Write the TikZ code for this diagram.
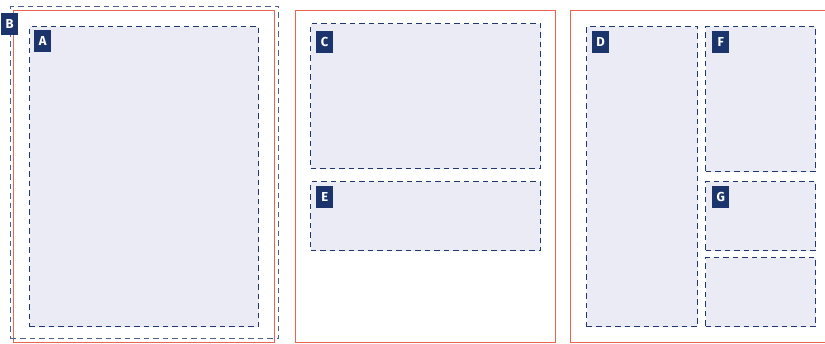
\documentclass[tikz,border=0pt]{standalone}
\usepackage{fontspec}
\setmainfont{Fira Sans}
\definecolor{panelred}{RGB}{235,100,75}
\definecolor{navy}{RGB}{32,56,112}
\definecolor{boxfill}{RGB}{235,235,245}
\definecolor{tagfill}{RGB}{28,52,108}
\tikzset{
  panel/.style={draw=panelred, line width=1.25pt, rectangle, inner sep=0pt, anchor=north west},
  region/.style={draw=navy, fill=boxfill, line width=1.4pt, dash pattern=on 5.5pt off 4pt, rectangle, inner sep=0pt, anchor=north west},
  outline/.style={draw=navy!80, line width=1.4pt, dash pattern=on 5.5pt off 4pt, rectangle, inner sep=0pt, anchor=north west},
  tag/.style={fill=tagfill, text=white, font=\bfseries\fontsize{13}{13}\selectfont, minimum width=17pt, minimum height=22pt, inner sep=0pt, anchor=north west}
}
\begin{document}
\begin{tikzpicture}[x=1pt,y=-1pt]
\useasboundingbox (0,0) rectangle (825,343);
% panels
\node[panel, minimum width=261pt, minimum height=332pt] (p1) at (13,10) {};
\node[panel, minimum width=260pt, minimum height=332pt] (p2) at (295,10) {};
\node[panel, minimum width=270pt, minimum height=332pt] (p3) at (570,10) {};
% outline B
\node[outline, minimum width=268pt, minimum height=332pt] (B) at (10,6) {};
% regions
\node[region, minimum width=229pt, minimum height=300pt] (A) at (29,26) {};
\node[region, minimum width=230pt, minimum height=145pt] (C) at (310,23) {};
\node[region, minimum width=230pt, minimum height=69pt] (E) at (310,181) {};
\node[region, minimum width=111pt, minimum height=300pt] (D) at (586,26) {};
\node[region, minimum width=110pt, minimum height=145pt] (F) at (705,26) {};
\node[region, minimum width=110pt, minimum height=69pt] (G) at (705,181) {};
\node[region, minimum width=110pt, minimum height=69pt] (H) at (705,257) {};
% tags
\node[tag] (tB) at (1,13) {B};
\node[tag] (tA) at (34,30) {A};
\node[tag] (tC) at (316,31) {C};
\node[tag] (tE) at (316,186) {E};
\node[tag] (tD) at (592,31) {D};
\node[tag] (tF) at (712,31) {F};
\node[tag] (tG) at (712,186) {G};
\end{tikzpicture}
\end{document}
